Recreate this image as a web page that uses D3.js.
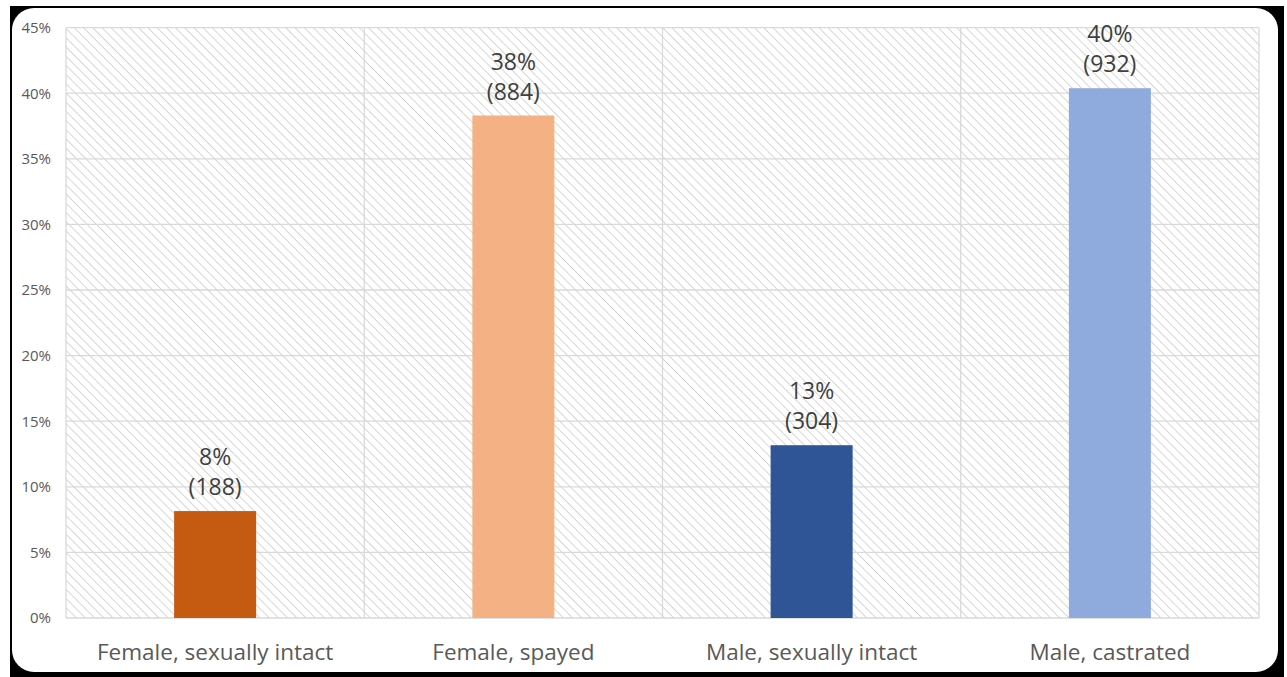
<!DOCTYPE html>
<html><head><meta charset="utf-8">
<script src="https://cdn.jsdelivr.net/npm/d3@7/dist/d3.min.js"></script>
<style>html,body{margin:0;padding:0;background:#fff;}svg{display:block;}</style>
</head><body>
<svg id="chart" width="1287" height="677"></svg>
<script>
const categories = ["Female, sexually intact", "Female, spayed", "Male, sexually intact", "Male, castrated"];
const percentValues = [8.15, 38.3, 13.17, 40.38];
const countValues = [188, 884, 304, 932];
const percentLabels = ["8%", "38%", "13%", "40%"];
const barColors = ["#C55A11", "#F4B183", "#2F5597", "#8FAADC"];
const yTicks = [0, 5, 10, 15, 20, 25, 30, 35, 40, 45];

const svg = d3.select("#chart");
const font = "'Open Sans', 'Noto Sans', sans-serif";

// frame
svg.append("rect").attr("x", 10).attr("y", 6).attr("width", 1274).attr("height", 680).attr("fill", "#000");
svg.append("rect").attr("x", 12).attr("y", 8).attr("width", 1266).attr("height", 664).attr("rx", 22).attr("fill", "#fff");

const defs = svg.append("defs");
const pat = defs.append("pattern").attr("id", "hatch").attr("patternUnits", "userSpaceOnUse")
  .attr("width", 6.5).attr("height", 6.5).attr("patternTransform", "rotate(-45)");
pat.append("rect").attr("width", 6.5).attr("height", 6.5).attr("fill", "#fff");
pat.append("line").attr("x1", 0).attr("y1", 0).attr("x2", 0).attr("y2", 6.5)
  .attr("stroke", "#d0d0d0").attr("stroke-width", 1.7);

const pLeft = 66, pRight = 1259, pTop = 27.6, pBottom = 618;
const x = d3.scaleBand().domain(categories).range([pLeft, pRight]).paddingInner(0).paddingOuter(0);
const y = d3.scaleLinear().domain([0, 45]).range([pBottom, pTop]);

// plot area hatch
svg.append("rect").attr("x", pLeft).attr("y", pTop).attr("width", pRight - pLeft).attr("height", pBottom - pTop)
  .attr("fill", "url(#hatch)");

// horizontal gridlines
svg.append("g").selectAll("line").data(yTicks).join("line")
  .attr("x1", pLeft).attr("x2", pRight).attr("y1", d => y(d)).attr("y2", d => y(d))
  .attr("stroke", "#d9d9d9").attr("stroke-width", 1.3);

// vertical gridlines at band boundaries
const bounds = categories.map(c => x(c)).concat([pRight]);
svg.append("g").selectAll("line").data(bounds).join("line")
  .attr("x1", d => d).attr("x2", d => d).attr("y1", pTop).attr("y2", pBottom)
  .attr("stroke", "#d9d9d9").attr("stroke-width", 1.3);

// y axis
const yAxis = d3.axisLeft(y).tickValues(yTicks).tickFormat(d => d + "%").tickSize(0).tickPadding(15);
const ga = svg.append("g").attr("transform", `translate(${pLeft},0)`).call(yAxis);
ga.select(".domain").remove();
ga.selectAll("text").attr("font-family", font).attr("font-size", 15).attr("fill", "#595959");

// x axis
const xAxis = d3.axisBottom(x).tickSize(0).tickPadding(0);
const gx = svg.append("g").attr("transform", `translate(0,${pBottom})`).call(xAxis);
gx.select(".domain").remove();
gx.selectAll("text").attr("font-family", font).attr("font-size", 22.5).attr("fill", "#595959")
  .attr("dy", null).attr("y", 42);

// bars
const bw = x.bandwidth() * 0.275;
svg.append("g").selectAll("rect").data(categories).join("rect")
  .attr("x", (d) => x(d) + x.bandwidth() / 2 - bw / 2)
  .attr("width", bw)
  .attr("y", (d, i) => y(percentValues[i]))
  .attr("height", (d, i) => pBottom - y(percentValues[i]))
  .attr("fill", (d, i) => barColors[i]);

// labels
const lg = svg.append("g").attr("font-family", font).attr("font-size", 23).attr("fill", "#404040").attr("text-anchor", "middle");
lg.selectAll("text.pct").data(categories).join("text").attr("class", "pct")
  .attr("x", d => x(d) + x.bandwidth() / 2)
  .attr("y", (d, i) => y(percentValues[i]) - 46)
  .text((d, i) => percentLabels[i]);
lg.selectAll("text.cnt").data(categories).join("text").attr("class", "cnt")
  .attr("x", d => x(d) + x.bandwidth() / 2)
  .attr("y", (d, i) => y(percentValues[i]) - 16)
  .text((d, i) => "(" + countValues[i] + ")");
</script>
</body></html>
